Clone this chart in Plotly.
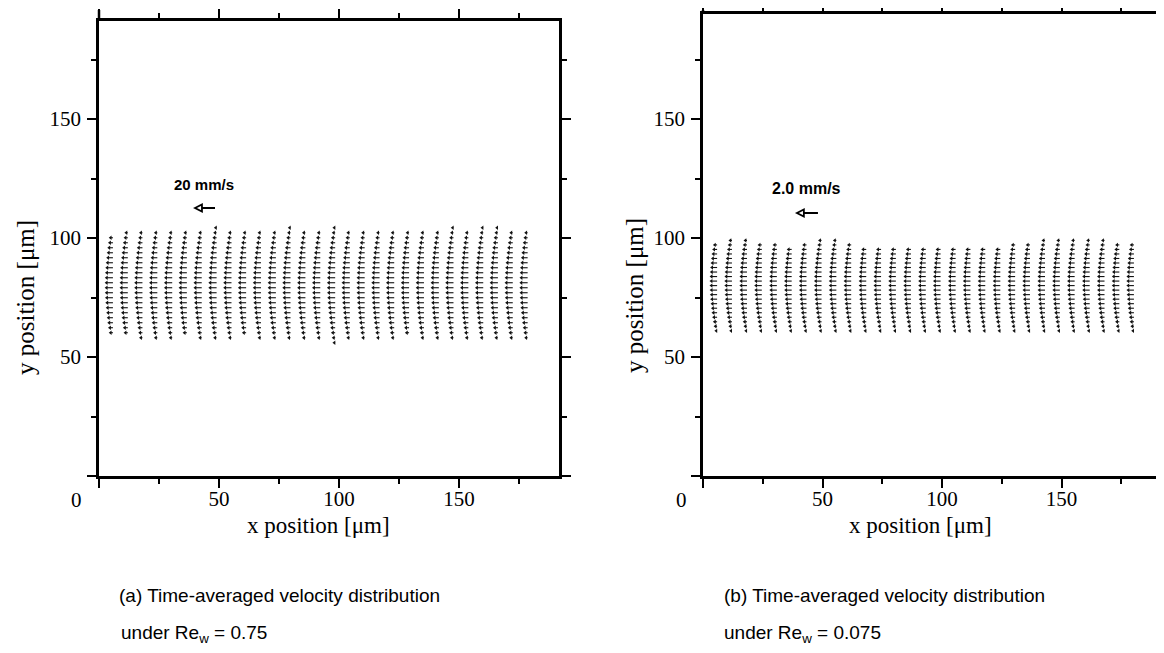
import plotly.graph_objects as go

# page body has an 8px margin; figure coordinates below are reference pixels minus OFF
OFF = 8
W, H = 1164 - OFF, 653 - OFF

# ---------------- data ----------------
# panel (a): Re_w = 0.75
cols_a = [5.8, 12.0, 18.1, 24.3, 30.5, 36.6, 42.8, 49.0, 55.2, 61.3, 67.5, 73.7, 79.8, 86.0, 92.2,
          98.4, 104.5, 110.7, 116.9, 123.0, 129.2, 135.4, 141.6, 147.7, 153.9, 160.1, 166.2, 172.4, 178.6]
bottom_a = [60, 59, 58, 58, 58, 59, 58, 57, 58, 59, 58, 58, 57, 58, 57,
            54, 58, 58, 57, 58, 59, 58, 57, 58, 58, 57, 58, 57, 57]
top_a = [102, 103, 103, 104, 104, 104, 104, 105, 104, 104, 104, 104, 105, 104, 104,
         105, 104, 104, 104, 103, 104, 104, 104, 105, 104, 105, 105, 104, 104]
rows_a = [56.0, 58.1, 60.2, 62.3, 64.4, 66.5, 68.6, 70.7, 72.8, 74.9, 77.0, 79.1, 81.2, 83.3,
          85.4, 87.5, 89.6, 91.7, 93.8, 95.9, 98.0, 100.1, 102.2, 104.3]
u_a = [0.8, 1.5, 2.3, 3.0, 3.7, 4.3, 4.8, 5.3, 5.7, 6.0, 6.2, 6.3, 6.3, 6.2,
       6.0, 5.7, 5.3, 4.8, 4.3, 3.7, 3.0, 2.3, 1.5, 0.8]          # mm/s
ref_speed_a = 20.0                                                # mm/s
ref_label_a = "20 mm/s"

# panel (b): Re_w = 0.075
cols_b = [5.9, 12.1, 18.4, 24.6, 30.9, 37.1, 43.3, 49.6, 55.8, 62.0, 68.3, 74.5, 80.7, 87.0, 93.2,
          99.4, 105.7, 111.9, 118.1, 124.4, 130.6, 136.8, 143.1, 149.3, 155.5, 161.8, 168.0, 174.2, 180.3]
bottom_b = [61] * 29
top_b = [98, 99, 99, 98, 98, 97, 98, 99, 99, 98, 97, 97, 96, 97, 96,
         96, 97, 96, 96, 97, 98, 98, 99, 100, 99, 99, 99, 98, 98]
rows_b = [61.0, 62.9, 64.8, 66.7, 68.6, 70.5, 72.4, 74.3, 76.2, 78.1, 80.0, 81.9, 83.8, 85.7,
          87.6, 89.5, 91.4, 93.3, 95.2, 97.1, 99.0, 100.9]
u_b = [0.08, 0.15, 0.22, 0.29, 0.35, 0.40, 0.44, 0.48, 0.51, 0.53, 0.54, 0.54, 0.53, 0.51,
       0.48, 0.44, 0.40, 0.35, 0.29, 0.22, 0.15, 0.08]             # mm/s
ref_speed_b = 2.0
ref_label_b = "2.0 mm/s"

tick_vals = [0, 50, 100, 150]
tick_text = ["", "50", "100", "150"]
minor_vals = [25, 75, 125, 175]

# ---------------- layout geometry (reference pixels) ----------------
a_l, a_r, a_t, a_b = 99, 559, 21, 476
b_l, b_r, b_t, b_b = 703, 1164, 14, 476
px_per_um_a = 2.40
px_per_um_b = 2.39
scale_a = 0.417   # um per mm/s (vector length scale)
scale_b = 4.4

SERIF = "Liberation Serif"
SANS = "Liberation Sans"


def px(x):
    return (x - OFF) / W


def py(y):
    return 1 - (y - OFF) / H


def vec_trace(cols, bottoms, tops, rows, u, scale, xa, ya):
    xs, ys, hx, hy = [], [], [], []
    for cx, lo, hi in zip(cols, bottoms, tops):
        for ry, uu in zip(rows, u):
            if lo <= ry <= hi:
                xs += [cx, cx - uu * scale, None]
                ys += [ry, ry, None]
                hx.append(cx - uu * scale)
                hy.append(ry)
    t1 = go.Scatter(x=xs, y=ys, mode="lines", line=dict(color="#111", width=1.1),
                    xaxis=xa, yaxis=ya, hoverinfo="skip")
    t2 = go.Scatter(x=hx, y=hy, mode="markers",
                    marker=dict(symbol="triangle-left", size=3.8, color="#111"),
                    xaxis=xa, yaxis=ya, hoverinfo="skip")
    return [t1, t2]


fig = go.Figure()
for t in vec_trace(cols_a, bottom_a, top_a, rows_a, u_a, scale_a, "x", "y"):
    fig.add_trace(t)
for t in vec_trace(cols_b, bottom_b, top_b, rows_b, u_b, scale_b, "x2", "y2"):
    fig.add_trace(t)


def axis_common(standoff):
    return dict(showline=True, linewidth=2.5, linecolor="black", ticks="outside",
                ticklen=9, tickwidth=2, tickcolor="black", showgrid=False, zeroline=False,
                automargin=False, ticklabelstandoff=standoff,
                tickmode="array", tickvals=tick_vals, ticktext=tick_text,
                tickfont=dict(family=SERIF, size=21, color="black"),
                minor=dict(tickmode="array", tickvals=minor_vals, ticks="outside",
                           ticklen=5, tickwidth=2, tickcolor="black"))


xa = axis_common(-7); xa.update(domain=[px(a_l), px(a_r)], range=[0, (a_r - a_l) / px_per_um_a],
                                 anchor="y", mirror="ticks")
ya = axis_common(2); ya.update(domain=[py(a_b), py(a_t)], range=[0, (a_b - a_t) / 2.38],
                                anchor="x", mirror="ticks")
xb = axis_common(-7); xb.update(domain=[px(b_l), 1.0], range=[0, (b_r - b_l) / px_per_um_b],
                                 anchor="y2", mirror="ticks")
yb = axis_common(2); yb.update(domain=[py(b_b), py(b_t)], range=[0, (b_b - b_t) / 2.38],
                                anchor="x2", mirror=False)

fig.update_layout(width=W, height=H, margin=dict(l=0, r=0, t=0, b=0, autoexpand=False),
                  paper_bgcolor="white", plot_bgcolor="white", showlegend=False,
                  font=dict(family=SERIF, color="black"),
                  xaxis=xa, yaxis=ya, xaxis2=xb, yaxis2=yb)

ann = []
shapes = []

# left axis lines poke slightly above the top frame in the scan
shapes.append(dict(type="line", xref="paper", yref="paper", x0=px(a_l), x1=px(a_l),
                   y0=py(a_t), y1=py(10), line=dict(color="black", width=2.5)))
shapes.append(dict(type="line", xref="paper", yref="paper", x0=px(b_l), x1=px(b_l),
                   y0=py(b_t), y1=py(10), line=dict(color="black", width=2.5)))


def ref_arrow(xref, yref, head_x, y, speed, scale, label, lx, ly, lsize):
    L = speed * scale
    hl = 2.9  # head length (um)
    hw = 1.5  # head half height (um)
    shapes.append(dict(type="line", xref=xref, yref=yref, x0=head_x + hl, x1=head_x + L,
                       y0=y, y1=y, line=dict(color="black", width=2)))
    shapes.append(dict(type="path", xref=xref, yref=yref,
                       path=f"M {head_x} {y} L {head_x + hl} {y + hw} L {head_x + hl} {y - hw} Z",
                       line=dict(color="black", width=1.8), fillcolor="white"))
    ann.append(dict(xref="paper", yref="paper", x=px(lx), y=py(ly), text=f"<b>{label}</b>",
                    showarrow=False, font=dict(family=SANS, size=lsize, color="black"),
                    xanchor="center", yanchor="middle"))


ref_arrow("x", "y", 40.0, 112.6, ref_speed_a, scale_a, ref_label_a, 204, 184, 15)
ref_arrow("x2", "y2", 39.3, 110.5, ref_speed_b, scale_b, ref_label_b, 806, 188, 16)


def txt(x, y, s, fam, size, xanchor="center", angle=0):
    ann.append(dict(xref="paper", yref="paper", x=px(x), y=py(y), text=s, showarrow=False,
                    font=dict(family=fam, size=size, color="black"), xanchor=xanchor,
                    yanchor="middle", textangle=angle))


txt(76, 500, "0", SERIF, 21)
txt(681, 500, "0", SERIF, 21)
txt(318, 525, "x position [μm]", SERIF, 23)
txt(920, 525, "x position [μm]", SERIF, 23)
txt(25, 298, "y position [μm]", SERIF, 25, angle=-90)
txt(634, 296, "y position [μm]", SERIF, 25, angle=-90)
txt(117, 595, "(a) Time-averaged velocity distribution", SANS, 19, xanchor="left")
txt(119, 634, "under Re<sub>w</sub> = 0.75", SANS, 19, xanchor="left")
txt(722, 595, "(b) Time-averaged velocity distribution", SANS, 19, xanchor="left")
txt(722, 634, "under Re<sub>w</sub> = 0.075", SANS, 19, xanchor="left")

fig.update_layout(annotations=ann, shapes=shapes)
fig.write_html("out.html")
